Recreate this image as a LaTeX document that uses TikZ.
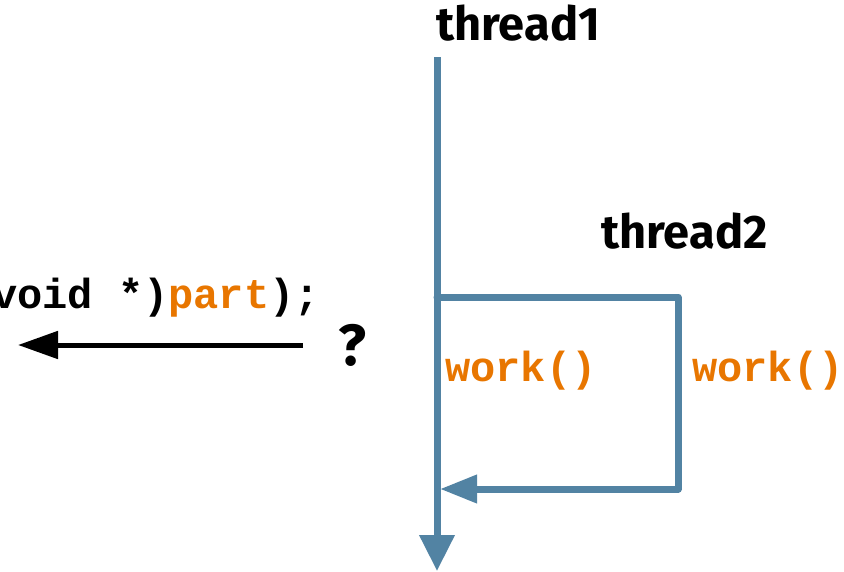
\documentclass[tikz,border=0pt]{standalone}
\usepackage{fontspec}
\setsansfont{Fira Sans}
\setmonofont{Liberation Mono}
\usetikzlibrary{positioning,arrows.meta}
\definecolor{threadblue}{RGB}{82,131,163}
\definecolor{codeorange}{RGB}{232,118,0}
\newcommand{\codehigh}[1]{\textcolor{codeorange}{#1}}

\begin{document}
\begin{tikzpicture}[x=1pt,y=-1pt,
  threadlabel/.style={font=\sffamily\bfseries\fontsize{47}{47}\selectfont, inner sep=0pt, anchor=base west},
  codetext/.style={font=\ttfamily\bfseries\fontsize{42}{42}\selectfont, inner sep=0pt},
  threadline/.style={draw=threadblue, line width=7pt, line join=round}]
\useasboundingbox (0,0) rectangle (844,571);
%the labels
\node [threadlabel] (threadOne) at (436,40) {thread1};
\node [threadlabel] (threadTwo) at (601,248) {thread2};
\node [codetext, anchor=base west, text=codeorange] (workOne) at (445,381) {work()};
\node [codetext, anchor=base west, text=codeorange] (workTwo) at (692,381) {work()};
\node [codetext, anchor=base east] (createCall) at (320,308) {void *)\codehigh{part});};
\node [threadlabel, font=\sffamily\bfseries\fontsize{58}{58}\selectfont] (askMark) at (338,365) {?};
%the thread lines
\coordinate (mainTop) at (437,57);
\coordinate (mainEnd) at (437,571);
\coordinate (forkPt) at (437,297);
\coordinate (forkRight) at (678,297);
\coordinate (joinRight) at (678,489);
\coordinate (joinPt) at (440,489);
\draw[threadline, -{Triangle[length=36pt,width=34pt]}] (mainTop) -- (mainEnd);
\draw[threadline, line cap=round, -{Triangle[length=37pt,width=27pt]}] (forkPt) -- (forkRight) -- (joinRight) -- (joinPt);
%the question arrow
\coordinate (askStart) at (303,345);
\coordinate (askEnd) at (18,345);
\draw[line width=5pt, -{Triangle[length=40pt,width=27pt]}] (askStart) -- (askEnd);
\end{tikzpicture}
\end{document}
